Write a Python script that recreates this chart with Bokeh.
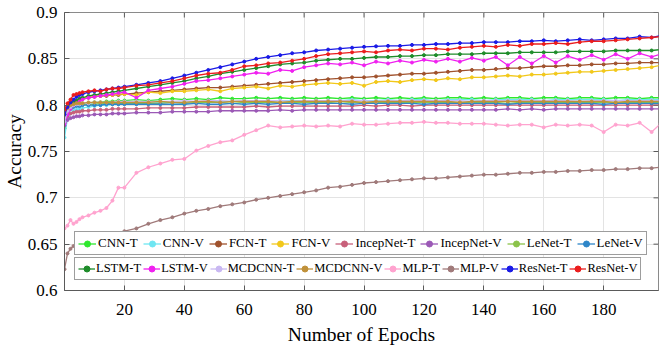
from math import pi
from bokeh.plotting import figure
from bokeh.models import Legend, LegendItem, FixedTicker, Range1d
from bokeh.embed import file_html
from bokeh.resources import INLINE

epochs = [0, 1, 2, 3, 4, 5, 6, 8, 10, 12, 14, 16, 18, 20,
          24, 28, 32, 36, 40, 44, 48, 52, 56, 60, 64,
          68, 72, 76, 80, 84, 88, 92, 96, 100, 104, 108,
          112, 116, 120, 124, 128, 132, 136, 140, 144, 148, 152,
          156, 160, 164, 168, 172, 176, 180, 184, 188, 192, 196,
          199]

cnn_t = [0.775, 0.790, 0.796, 0.799, 0.800, 0.801, 0.802, 0.802, 0.803, 0.803, 0.804, 0.804, 0.805, 0.805,
         0.806, 0.805, 0.806, 0.807, 0.806, 0.807, 0.806, 0.808, 0.807, 0.807, 0.808,
         0.807, 0.808, 0.807, 0.808, 0.807, 0.808, 0.807, 0.808, 0.807, 0.808, 0.807,
         0.808, 0.807, 0.808, 0.807, 0.808, 0.808, 0.807, 0.808, 0.807, 0.808, 0.808,
         0.807, 0.808, 0.808, 0.807, 0.808, 0.808, 0.807, 0.808, 0.808, 0.807, 0.808,
         0.808]
cnn_v = [0.765, 0.786, 0.791, 0.794, 0.795, 0.796, 0.797, 0.798, 0.799, 0.800, 0.800, 0.801, 0.801, 0.802,
         0.802, 0.802, 0.803, 0.803, 0.803, 0.804, 0.803, 0.804, 0.804, 0.804, 0.805,
         0.804, 0.805, 0.805, 0.805, 0.804, 0.805, 0.805, 0.806, 0.805, 0.805, 0.806,
         0.805, 0.806, 0.806, 0.805, 0.806, 0.806, 0.806, 0.805, 0.806, 0.806, 0.806,
         0.806, 0.805, 0.806, 0.806, 0.806, 0.806, 0.806, 0.805, 0.806, 0.806, 0.806,
         0.806]
fcn_t = [0.790, 0.797, 0.801, 0.803, 0.805, 0.806, 0.807, 0.808, 0.809, 0.810, 0.810, 0.811, 0.811, 0.812,
         0.813, 0.814, 0.815, 0.816, 0.817, 0.818, 0.819, 0.819, 0.820, 0.821, 0.822,
         0.823, 0.824, 0.825, 0.826, 0.827, 0.828, 0.829, 0.830, 0.830, 0.831, 0.832,
         0.833, 0.834, 0.834, 0.835, 0.836, 0.837, 0.838, 0.838, 0.839, 0.840, 0.840,
         0.841, 0.842, 0.842, 0.843, 0.843, 0.844, 0.844, 0.845, 0.845, 0.846, 0.846,
         0.846]
fcn_v = [0.785, 0.795, 0.800, 0.803, 0.805, 0.806, 0.807, 0.809, 0.810, 0.810, 0.811, 0.811, 0.812, 0.812,
         0.811, 0.814, 0.813, 0.815, 0.815, 0.816, 0.817, 0.815, 0.818, 0.819, 0.820,
         0.818, 0.821, 0.820, 0.822, 0.823, 0.824, 0.823, 0.824, 0.821, 0.825, 0.826,
         0.825, 0.827, 0.828, 0.827, 0.829, 0.828, 0.830, 0.830, 0.831, 0.832, 0.831,
         0.833, 0.833, 0.834, 0.835, 0.836, 0.836, 0.837, 0.838, 0.839, 0.840, 0.841,
         0.843]
incep_t = [0.781, 0.788, 0.791, 0.792, 0.793, 0.793, 0.794, 0.794, 0.795, 0.795, 0.795, 0.796, 0.796, 0.796,
           0.796, 0.797, 0.797, 0.797, 0.797, 0.798, 0.798, 0.798, 0.798, 0.798, 0.799,
           0.798, 0.799, 0.799, 0.799, 0.799, 0.799, 0.799, 0.799, 0.800, 0.799, 0.800,
           0.800, 0.799, 0.800, 0.800, 0.800, 0.800, 0.800, 0.800, 0.800, 0.800, 0.800,
           0.800, 0.800, 0.800, 0.800, 0.800, 0.800, 0.800, 0.800, 0.800, 0.800, 0.800,
           0.800]
incep_v = [0.778, 0.784, 0.786, 0.787, 0.788, 0.788, 0.789, 0.789, 0.790, 0.790, 0.790, 0.791, 0.791, 0.791,
           0.792, 0.792, 0.792, 0.793, 0.793, 0.793, 0.793, 0.794, 0.794, 0.794, 0.794,
           0.794, 0.795, 0.794, 0.795, 0.795, 0.795, 0.795, 0.795, 0.795, 0.795, 0.795,
           0.795, 0.795, 0.795, 0.795, 0.795, 0.795, 0.795, 0.795, 0.795, 0.796, 0.795,
           0.796, 0.795, 0.796, 0.796, 0.796, 0.796, 0.796, 0.796, 0.796, 0.796, 0.796,
           0.796]
lenet_t = [0.787, 0.795, 0.798, 0.799, 0.800, 0.800, 0.801, 0.801, 0.801, 0.802, 0.802, 0.802, 0.802, 0.802,
           0.802, 0.802, 0.802, 0.803, 0.802, 0.803, 0.803, 0.803, 0.802, 0.803, 0.803,
           0.803, 0.803, 0.803, 0.803, 0.803, 0.803, 0.802, 0.803, 0.803, 0.803, 0.803,
           0.803, 0.803, 0.803, 0.803, 0.803, 0.803, 0.803, 0.803, 0.803, 0.802, 0.803,
           0.803, 0.803, 0.803, 0.803, 0.803, 0.803, 0.803, 0.803, 0.803, 0.803, 0.803,
           0.803]
lenet_v = [0.783, 0.793, 0.796, 0.798, 0.799, 0.799, 0.800, 0.800, 0.800, 0.800, 0.801, 0.801, 0.801, 0.801,
           0.801, 0.801, 0.801, 0.801, 0.801, 0.802, 0.801, 0.801, 0.802, 0.801, 0.802,
           0.801, 0.802, 0.802, 0.801, 0.802, 0.802, 0.802, 0.801, 0.802, 0.802, 0.802,
           0.802, 0.802, 0.801, 0.802, 0.802, 0.802, 0.802, 0.802, 0.802, 0.801, 0.802,
           0.802, 0.802, 0.802, 0.802, 0.802, 0.802, 0.801, 0.802, 0.802, 0.802, 0.802,
           0.802]
lstm_t = [0.785, 0.795, 0.800, 0.803, 0.805, 0.807, 0.808, 0.810, 0.811, 0.812, 0.813, 0.814, 0.815, 0.816,
          0.818, 0.820, 0.822, 0.824, 0.826, 0.829, 0.831, 0.834, 0.836, 0.838, 0.840,
          0.842, 0.844, 0.845, 0.846, 0.848, 0.849, 0.850, 0.850, 0.851, 0.852, 0.852,
          0.853, 0.853, 0.854, 0.854, 0.855, 0.855, 0.855, 0.856, 0.856, 0.856, 0.857,
          0.857, 0.857, 0.857, 0.858, 0.858, 0.858, 0.858, 0.859, 0.859, 0.859, 0.859,
          0.860]
lstm_v = [0.780, 0.790, 0.796, 0.800, 0.802, 0.804, 0.806, 0.808, 0.809, 0.810, 0.811, 0.812, 0.813, 0.814,
          0.808, 0.816, 0.818, 0.820, 0.823, 0.826, 0.827, 0.829, 0.831, 0.833, 0.835,
          0.834, 0.838, 0.837, 0.841, 0.843, 0.845, 0.844, 0.846, 0.843, 0.847, 0.845,
          0.848, 0.846, 0.849, 0.847, 0.850, 0.847, 0.851, 0.848, 0.852, 0.843, 0.852,
          0.845, 0.853, 0.846, 0.853, 0.849, 0.854, 0.849, 0.855, 0.850, 0.856, 0.852,
          0.855]
mcdcnn_t = [0.782, 0.794, 0.798, 0.800, 0.801, 0.801, 0.802, 0.802, 0.803, 0.803, 0.803, 0.803, 0.804, 0.804,
            0.804, 0.804, 0.804, 0.804, 0.805, 0.804, 0.805, 0.805, 0.804, 0.805, 0.805,
            0.805, 0.805, 0.804, 0.805, 0.805, 0.805, 0.805, 0.805, 0.805, 0.804, 0.805,
            0.805, 0.805, 0.805, 0.805, 0.805, 0.805, 0.804, 0.805, 0.805, 0.805, 0.805,
            0.805, 0.805, 0.805, 0.805, 0.804, 0.805, 0.805, 0.805, 0.805, 0.805, 0.805,
            0.805]
mcdcnn_v = [0.790, 0.797, 0.800, 0.801, 0.802, 0.802, 0.802, 0.803, 0.803, 0.803, 0.803, 0.803, 0.803, 0.803,
            0.803, 0.803, 0.804, 0.803, 0.803, 0.804, 0.804, 0.803, 0.804, 0.804, 0.804,
            0.804, 0.803, 0.804, 0.804, 0.804, 0.804, 0.804, 0.804, 0.803, 0.804, 0.804,
            0.804, 0.804, 0.804, 0.804, 0.804, 0.803, 0.804, 0.804, 0.804, 0.804, 0.804,
            0.804, 0.804, 0.804, 0.804, 0.804, 0.804, 0.804, 0.803, 0.804, 0.804, 0.804,
            0.804]
mlp_t = [0.667, 0.670, 0.676, 0.672, 0.674, 0.677, 0.679, 0.681, 0.684, 0.686, 0.689, 0.697, 0.711, 0.711,
         0.727, 0.733, 0.737, 0.741, 0.742, 0.751, 0.756, 0.760, 0.762, 0.768, 0.773,
         0.778, 0.776, 0.777, 0.778, 0.777, 0.778, 0.777, 0.780, 0.779, 0.779, 0.780,
         0.781, 0.781, 0.782, 0.781, 0.781, 0.780, 0.780, 0.780, 0.779, 0.778, 0.779,
         0.779, 0.776, 0.779, 0.778, 0.779, 0.778, 0.771, 0.779, 0.778, 0.781, 0.771,
         0.780]
mlp_v = [0.623, 0.640, 0.645, 0.648, 0.649, 0.650, 0.651, 0.652, 0.653, 0.654, 0.655, 0.656, 0.658, 0.664,
         0.667, 0.672, 0.676, 0.679, 0.683, 0.686, 0.688, 0.691, 0.693, 0.695, 0.698,
         0.700, 0.702, 0.704, 0.706, 0.708, 0.711, 0.712, 0.714, 0.716, 0.717, 0.718,
         0.719, 0.720, 0.721, 0.721, 0.722, 0.723, 0.724, 0.725, 0.725, 0.726, 0.727,
         0.727, 0.728, 0.728, 0.729, 0.729, 0.730, 0.730, 0.731, 0.731, 0.732, 0.732,
         0.733]
resnet_t = [0.790, 0.798, 0.803, 0.806, 0.809, 0.811, 0.812, 0.814, 0.815, 0.816, 0.817, 0.818, 0.819, 0.820,
            0.822, 0.824, 0.826, 0.829, 0.832, 0.835, 0.838, 0.841, 0.844, 0.847, 0.850,
            0.852, 0.854, 0.856, 0.857, 0.859, 0.860, 0.861, 0.862, 0.863, 0.8635, 0.864,
            0.864, 0.865, 0.865, 0.866, 0.866, 0.867, 0.867, 0.868, 0.868, 0.868, 0.869,
            0.869, 0.870, 0.869, 0.870, 0.871, 0.870, 0.871, 0.872, 0.872, 0.874, 0.873,
            0.875]
resnet_v = [0.795, 0.802, 0.806, 0.811, 0.812, 0.813, 0.814, 0.815, 0.816, 0.815, 0.817, 0.818, 0.818, 0.819,
            0.821, 0.822, 0.824, 0.826, 0.829, 0.832, 0.834, 0.835, 0.838, 0.842, 0.843,
            0.845, 0.846, 0.848, 0.850, 0.853, 0.855, 0.856, 0.857, 0.858, 0.857, 0.859,
            0.860, 0.859, 0.861, 0.861, 0.860, 0.862, 0.863, 0.864, 0.863, 0.865, 0.864,
            0.866, 0.866, 0.867, 0.866, 0.868, 0.869, 0.869, 0.870, 0.871, 0.872, 0.873,
            0.874]

names = ["CNN-T", "CNN-V", "FCN-T", "FCN-V", "IncepNet-T", "IncepNet-V", "LeNet-T", "LeNet-V",
         "LSTM-T", "LSTM-V", "MCDCNN-T", "MCDCNN-V", "MLP-T", "MLP-V", "ResNet-T", "ResNet-V"]
colors = ["#2ee82e", "#6fe6f2", "#a0522d", "#f2c81a", "#c8607a", "#9b59b6", "#8bc34a", "#2e86c8",
          "#1e8c2a", "#f020f0", "#c9b8f2", "#c0913a", "#ffa3cf", "#a07a7a", "#1a1ae6", "#eb1c1c"]
series = [cnn_t, cnn_v, fcn_t, fcn_v, incep_t, incep_v, lenet_t, lenet_v,
          lstm_t, lstm_v, mcdcnn_t, mcdcnn_v, mlp_t, mlp_v, resnet_t, resnet_v]

x_ticks = [20, 40, 60, 80, 100, 120, 140, 160, 180]
y_ticks = [0.6, 0.65, 0.7, 0.75, 0.8, 0.85, 0.9]
y_tick_labels = ["0.6", "0.65", "0.7", "0.75", "0.8", "0.85", "0.9"]
x_min, x_max = 0, 198.3
y_min, y_max = y_ticks[0], y_ticks[-1]

FONT = "Liberation Serif"
AX = "#5a5a5a"

p = figure(width=659, height=348, x_range=Range1d(x_min, x_max), y_range=Range1d(y_min, y_max),
           output_backend="svg", toolbar_location=None,
           min_border_left=63, min_border_right=1, min_border_top=12, min_border_bottom=58)
p.background_fill_color = "white"
p.border_fill_color = "white"
p.outline_line_color = "#8a8a8a"
p.outline_line_width = 1

p.xgrid.ticker = FixedTicker(ticks=x_ticks)
p.ygrid.ticker = FixedTicker(ticks=y_ticks)
p.grid.grid_line_color = "#e3e3e3"
p.grid.grid_line_width = 1

items = []
for name, col, ys in zip(names, colors, series):
    ln = p.line(epochs, ys, line_color=col, line_width=1.3)
    sc = p.scatter(epochs, ys, size=3, fill_color=col, line_color=col)
    items.append(LegendItem(label=name, renderers=[ln, sc]))

# inward ticks on the top and right edges (half of each dash is clipped by the frame)
p.scatter(x_ticks, [y_max] * len(x_ticks), marker="dash", size=10, angle=pi / 2,
          line_color=AX, line_width=1)
p.scatter([x_max] * len(y_ticks), y_ticks, marker="dash", size=10,
          line_color=AX, line_width=1)

for ax in (p.xaxis[0], p.yaxis[0]):
    ax.major_tick_in = 5
    ax.major_tick_out = 0
    ax.minor_tick_in = 0
    ax.minor_tick_out = 0
    ax.axis_line_color = AX
    ax.major_tick_line_color = AX
    ax.major_label_text_font = FONT
    ax.major_label_text_font_size = "17px"
    ax.major_label_text_color = "black"
    ax.axis_label_text_font = FONT
    ax.axis_label_text_font_style = "normal"
    ax.axis_label_text_font_size = "19.5px"
    ax.axis_label_text_color = "black"

p.xaxis[0].ticker = FixedTicker(ticks=x_ticks)
p.xaxis[0].axis_label = "Number of Epochs"
p.xaxis[0].major_label_standoff = 13
p.xaxis[0].axis_label_standoff = 6
p.yaxis[0].ticker = FixedTicker(ticks=y_ticks)
p.yaxis[0].major_label_overrides = dict(zip(y_ticks, y_tick_labels))
p.yaxis[0].axis_label = "Accuracy"
p.yaxis[0].major_label_standoff = 7
p.yaxis[0].axis_label_standoff = 0

common = dict(orientation="horizontal", background_fill_color="white", background_fill_alpha=1.0,
              border_line_color="#3c3c3c", border_line_width=1, margin=0, padding=3,
              glyph_height=15, label_height=15, label_text_font=FONT,
              label_text_color="black", label_text_baseline="middle")
leg1 = Legend(items=items[:8], location=(10, 35), spacing=5, glyph_width=18, label_standoff=2,
              label_text_font_size="13px", **common)
leg2 = Legend(items=items[8:], location=(10, 10), spacing=2, glyph_width=17, label_standoff=1,
              label_text_font_size="12.5px", **common)
p.add_layout(leg1)
p.add_layout(leg2)

open("out.html", "w").write(file_html(p, INLINE))
